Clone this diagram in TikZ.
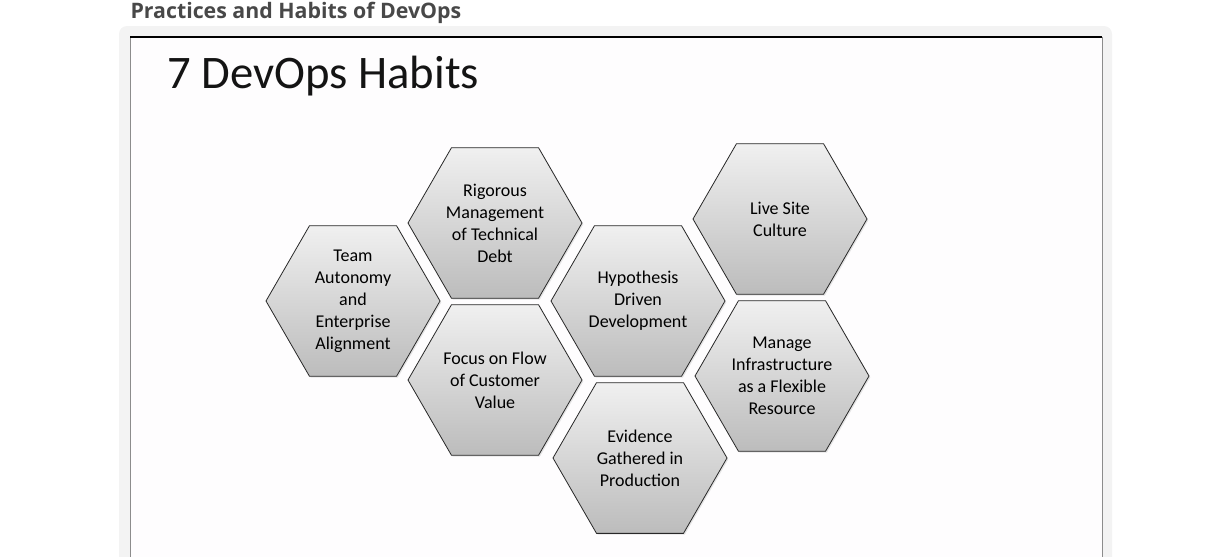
\documentclass[tikz,border=0pt]{standalone}
\usepackage{fontspec}
\setmainfont{Carlito}
\newfontfamily\headfont{Open Sans}
\usetikzlibrary{shapes.geometric,shadows}

\definecolor{panelgray}{RGB}{243,243,243}
\definecolor{slidewhite}{RGB}{254,253,254}
\definecolor{headgray}{RGB}{72,72,72}
\definecolor{hextop}{RGB}{240,240,240}
\definecolor{hexbot}{RGB}{188,188,188}
\definecolor{hexline}{RGB}{40,40,40}

\begin{document}
\tikzset{every picture/.style={line width=0.75pt}}

\begin{tikzpicture}[x=0.75pt,y=0.75pt,yscale=-1,xscale=1,
  hexa/.style={regular polygon, regular polygon sides=6, minimum size=130.5pt, inner sep=0pt,
    draw=hexline, line width=0.6pt, top color=hextop, bottom color=hexbot,
    drop shadow={shadow xshift=1pt, shadow yshift=-1pt, opacity=0.2},
    align=center, font=\fontsize{13.5}{16.5}\selectfont}]
\useasboundingbox (0,0) rectangle (1229,557);

%Shape: Panel
\fill [panelgray] (119,557) {[rounded corners=6] -- (119,26) -- (1112,26)} -- (1112,557) -- cycle ;
%Shape: Slide
\fill [slidewhite] (130,37) rectangle (1102,557) ;
\draw [color={rgb, 255:red, 140; green, 140; blue, 140 }] (130,557) -- (130,37) -- (1102,37) -- (1102,557) ;
\draw [line width=1.2] (130,37) -- (1102,37) ;

% Text Node
\node (head) [anchor=base west, inner sep=0pt, text=headgray, font=\headfont\bfseries\fontsize{16}{18}\selectfont] at (130,18) {Practices and Habits of DevOps};
% Text Node
\node (title) [anchor=base west, inner sep=0pt, text={rgb,255:red,20;green,20;blue,20}, font=\fontsize{35}{40}\selectfont] at (167,88) {7 DevOps Habits};

%Shape: Hexagons
\node (team) [hexa] at (353,301) {Team\\Autonomy\\and\\Enterprise\\Alignment};
\node (debt) [hexa] at (495,223) {Rigorous\\Management\\of Technical\\Debt};
\node (flow) [hexa] at (495,380) {Focus on Flow\\of Customer\\Value};
\node (hypo) [hexa] at (638,301) {Hypothesis\\Driven\\Development};
\node (evid) [hexa] at (640,458) {Evidence\\Gathered in\\Production};
\node (live) [hexa] at (780,219) {Live Site\\Culture};
\node (infra) [hexa] at (782,376) {Manage\\Infrastructure\\as a Flexible\\Resource};

\end{tikzpicture}
\end{document}
